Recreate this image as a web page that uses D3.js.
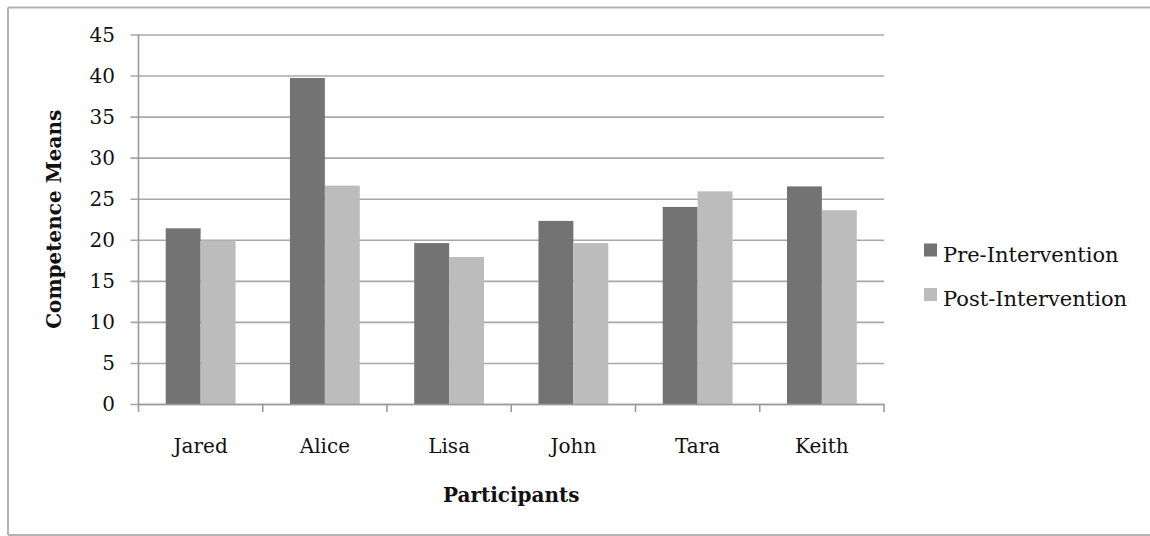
<!DOCTYPE html>
<html>
<head>
<meta charset="utf-8">
<script src="https://cdn.jsdelivr.net/npm/d3@7/dist/d3.min.js"></script>
<style>
  html, body { margin: 0; padding: 0; background: #fff; overflow: hidden; }
  svg { display: block; }
  text { font-family: "DejaVu Serif", "Liberation Serif", serif; fill: #111; }
</style>
</head>
<body>
<svg id="chart" width="1150" height="536"></svg>
<script>
// Competence means per participant, before and after the intervention
const participants = ["Jared", "Alice", "Lisa", "John", "Tara", "Keith"];
const seriesNames = ["Pre-Intervention", "Post-Intervention"];
const preValues = [21.4, 39.7, 19.6, 22.3, 24.0, 26.5];
const postValues = [19.9, 26.6, 17.9, 19.6, 25.9, 23.6];
const yTicks = [0, 5, 10, 15, 20, 25, 30, 35, 40, 45];
const seriesColors = ["#737373", "#bcbcbc"];

const svg = d3.select("#chart");
const plot = { left: 138.5, right: 884, top: 34.5, bottom: 404 };

// Outer chart frame: top, left and bottom edges (right edge runs past the page)
const frame = [
  [8, 7.5, 1150, 7.5],
  [8, 7.5, 8, 535],
  [8, 535, 1150, 535]
];
svg.append("g").selectAll("line").data(frame).join("line")
  .attr("x1", d => d[0]).attr("y1", d => d[1])
  .attr("x2", d => d[2]).attr("y2", d => d[3])
  .attr("stroke", "#b3b3b3").attr("stroke-width", 2);

const x = d3.scaleBand().domain(participants).range([plot.left, plot.right]).paddingInner(0).paddingOuter(0);
const xInner = d3.scaleBand().domain(seriesNames).range([0, x.bandwidth()]).paddingInner(0).paddingOuter(0.78);
const y = d3.scaleLinear().domain([0, 45]).range([plot.bottom, plot.top]);

// Horizontal gridlines with left tick marks
const yAxis = d3.axisLeft(y).tickValues(yTicks).tickSize(plot.right - plot.left + 8).tickPadding(0).tickFormat("");
const gy = svg.append("g").attr("transform", `translate(${plot.right},0)`).call(yAxis);
gy.select(".domain").remove();
gy.selectAll(".tick line").attr("stroke", "#a8a8a8").attr("stroke-width", 1.6);

// Y tick labels
svg.append("g").selectAll("text").data(yTicks).join("text")
  .attr("x", 115).attr("y", d => y(d))
  .attr("dy", "0.35em")
  .attr("text-anchor", "end")
  .style("font-size", "20px")
  .text(d => d);

// Bars
const rows = participants.map((p, i) => ({ name: p, values: [preValues[i], postValues[i]] }));
const groups = svg.append("g").selectAll("g").data(rows).join("g")
  .attr("transform", d => `translate(${x(d.name)},0)`);
groups.selectAll("rect").data(d => d.values.map((v, j) => ({ key: seriesNames[j], value: v, color: seriesColors[j] })))
  .join("rect")
  .attr("x", d => xInner(d.key))
  .attr("y", d => y(d.value))
  .attr("width", xInner.bandwidth())
  .attr("height", d => y(0) - y(d.value))
  .attr("fill", d => d.color);

// Axis lines
svg.append("line")
  .attr("x1", plot.left).attr("x2", plot.left)
  .attr("y1", plot.top).attr("y2", plot.bottom)
  .attr("stroke", "#9a9a9a").attr("stroke-width", 1.6);

const xAxis = d3.axisBottom(x).tickSize(0).tickPadding(0).tickFormat("");
const gx = svg.append("g").attr("transform", `translate(0,${plot.bottom})`).call(xAxis);
gx.select(".domain").attr("stroke", "#9a9a9a").attr("stroke-width", 1.6);
gx.selectAll(".tick").remove();

// Category boundary ticks
const boundaries = participants.map(p => x(p)).concat([x(participants[participants.length - 1]) + x.bandwidth()]);
svg.append("g").selectAll("line").data(boundaries).join("line")
  .attr("x1", d => d).attr("x2", d => d)
  .attr("y1", plot.bottom).attr("y2", plot.bottom + 8)
  .attr("stroke", "#9a9a9a").attr("stroke-width", 1.6);

// Category labels
svg.append("g").selectAll("text").data(participants).join("text")
  .attr("x", d => x(d) + x.bandwidth() / 2)
  .attr("y", 453)
  .attr("text-anchor", "middle")
  .style("font-size", "20px")
  .text(d => d);

// Axis titles
svg.append("text")
  .attr("x", (plot.left + plot.right) / 2).attr("y", 502)
  .attr("text-anchor", "middle")
  .style("font-size", "20px").style("font-weight", "bold")
  .text("Participants");

svg.append("text")
  .attr("transform", `translate(61,${(plot.top + plot.bottom) / 2}) rotate(-90)`)
  .attr("text-anchor", "middle")
  .style("font-size", "20px").style("font-weight", "bold")
  .text("Competence Means");

// Legend
const legend = svg.append("g").selectAll("g").data(seriesNames).join("g")
  .attr("transform", (d, i) => `translate(924,${243.5 + i * 44.5})`);
legend.append("rect")
  .attr("width", 13).attr("height", 13)
  .attr("fill", (d, i) => seriesColors[i]);
legend.append("text")
  .attr("x", 19).attr("y", 18)
  .style("font-size", "21px")
  .text(d => d);
</script>
</body>
</html>
